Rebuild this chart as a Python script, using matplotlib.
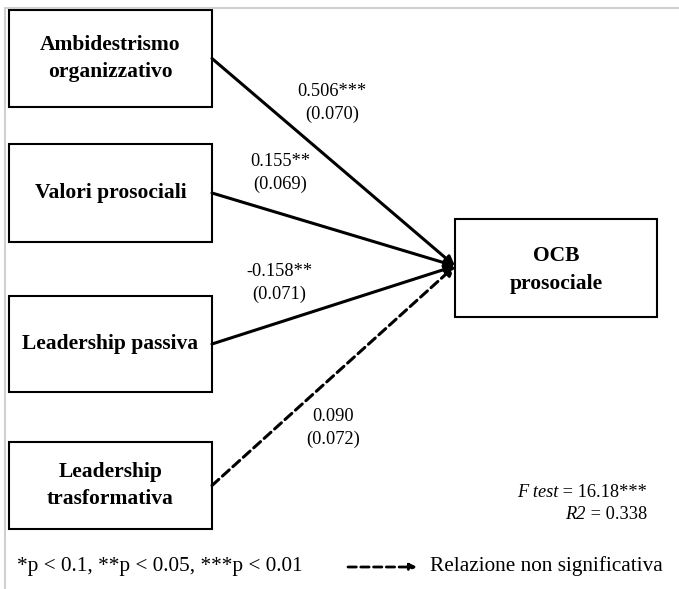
import matplotlib.pyplot as plt
from matplotlib.patches import Rectangle

# Dati del modello
predittori = ['Ambidestrismo\norganizzativo', 'Valori prosociali',
              'Leadership passiva', 'Leadership\ntrasformativa']
coef = ['0.506***', '0.155**', '-0.158**', '0.090']
se = ['(0.070)', '(0.069)', '(0.071)', '(0.072)']
significativo = [True, True, True, False]
dipendente = 'OCB\nprosociale'
f_test = '16.18***'
r2 = '0.338'

# Layout in pixel
W, H = 679, 589
box_y = [(10, 107), (144, 242), (296, 392), (442, 529)]
box_x = (9, 212)
dep_box = (455, 219, 657, 317)
tip = (455, 266)
lab_pos = [(332, 103), (280, 173), (279, 283), (333, 428)]

serif = ['Liberation Serif', 'DejaVu Serif']

fig = plt.figure(figsize=(W / 100, H / 100), dpi=100)
ax = fig.add_axes([0, 0, 1, 1])
ax.set_xlim(0, W)
ax.set_ylim(H, 0)
ax.axis('off')

# bordo grigio chiaro
ax.plot([5, 5, W], [H, 8, 8], color='#d0d0d0', lw=1.5)

for i, nome in enumerate(predittori):
    y0, y1 = box_y[i]
    ax.add_patch(Rectangle((box_x[0], y0), box_x[1] - box_x[0], y1 - y0,
                           fill=False, ec='black', lw=1.5))
    ax.text((box_x[0] + box_x[1]) / 2, (y0 + y1) / 2, nome, ha='center', va='center',
            family=serif, weight='bold', fontsize=15.5, linespacing=1.5)
    start = (box_x[1], (y0 + y1) / 2)
    ls = '-' if significativo[i] else (0, (3, 1.6))
    ax.annotate('', xy=tip, xytext=start,
                arrowprops=dict(arrowstyle='-|>', color='black', lw=2.2, ls=ls,
                                mutation_scale=14, shrinkA=0, shrinkB=0))
    lx, ly = lab_pos[i]
    ax.text(lx, ly, coef[i] + '\n' + se[i], ha='center', va='center',
            family=serif, fontsize=13.2, linespacing=1.45)

x0, y0, x1, y1 = dep_box
ax.add_patch(Rectangle((x0, y0), x1 - x0, y1 - y0, fill=False, ec='black', lw=1.5))
ax.text((x0 + x1) / 2, (y0 + y1) / 2 + 2, dipendente, ha='center', va='center',
        family=serif, weight='bold', fontsize=15.5, linespacing=1.5)

# statistiche: parte in corsivo + valore
renderer = fig.canvas.get_renderer()
for etichetta, valore, y in [('F test', f_test, 492), ('R2', r2, 514)]:
    t = ax.text(647, y, ' = ' + valore, ha='right', va='baseline',
                family=serif, fontsize=13.2)
    bb = t.get_window_extent(renderer)
    xl = ax.transData.inverted().transform((bb.x0, bb.y0))[0]
    ax.text(xl, y, etichetta, ha='right', va='baseline',
            family=serif, fontsize=13.2, style='italic')
    t.set_y(y + 5)
    ax.texts[-1].set_y(y + 5)

ax.text(17, 566, '*p < 0.1, **p < 0.05, ***p < 0.01', ha='left', va='center',
        family=serif, fontsize=15.3)
ax.annotate('', xy=(417, 567), xytext=(348, 567),
            arrowprops=dict(arrowstyle='-|>', color='black', lw=2, ls=(0, (3, 1.6)),
                            mutation_scale=10, shrinkA=0, shrinkB=0))
ax.text(430, 566, 'Relazione non significativa', ha='left', va='center',
        family=serif, fontsize=15.3)

fig.savefig('out.png', dpi=100)
